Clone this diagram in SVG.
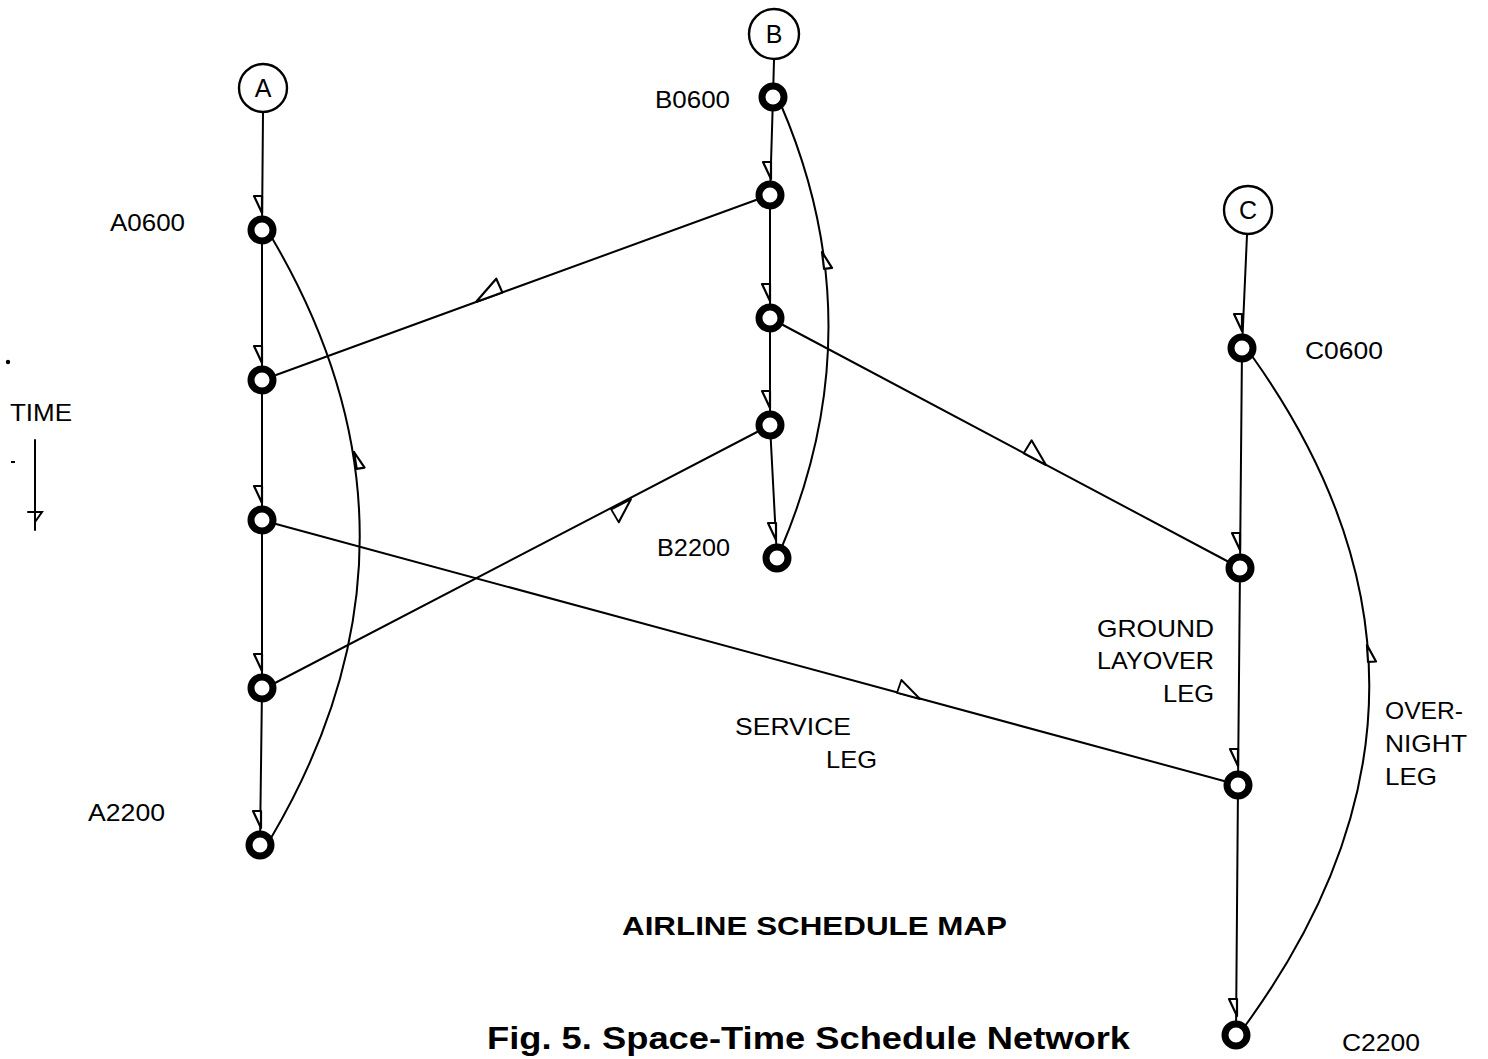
<svg xmlns="http://www.w3.org/2000/svg" xmlns:xlink="http://www.w3.org/1999/xlink" width="1488" height="1059" viewBox="0 0 1488 1059">
  <style>
    .leg { fill: none; stroke: #000; stroke-width: 2; stroke-linecap: round; }
    .ah { fill: #fff; stroke: #000; stroke-width: 2.2; stroke-linejoin: round; }
    .city { fill: #fff; stroke: #000; stroke-width: 2.4; }
    .ev { fill: #fff; stroke: #000; stroke-width: 7; }
    .lbl { font-family: "Liberation Sans", Arial, sans-serif; font-size: 24px; fill: #000; }
    .city-t { font-family: "Liberation Sans", Arial, sans-serif; font-size: 25px; fill: #000; text-anchor: middle; }
    .title { font-family: "Liberation Sans", Arial, sans-serif; font-weight: bold; fill: #000; }
  </style>
  <defs>
    <!-- half arrowheads: tip at origin, pointing along +x, flag on the +y side -->
    <path id="ah-s" class="ah" d="M0,0 L-17,0 L-17,8 Z"/>
    <path id="ah-b" class="ah" d="M0,0 L-28,0 L-27,15 Z"/>
  </defs>
  <rect width="1488" height="1059" fill="#fff"/>

  <!-- connectors -->
  <g id="connectors">
    <!-- ground arcs (timelines) -->
    <polyline class="leg" points="263,113 262,230 262,380 262,520 262,688 260,845"/>
    <polyline class="leg" points="774,60 773,97 770,195 770,318 770,425 777,558"/>
    <polyline class="leg" points="1247,235 1242,348 1240,568 1238,785 1236,1035"/>

    <!-- overnight arcs -->
    <path class="leg" d="M271,838 Q448,537 272,238"/>
    <path class="leg" d="M781,549 Q876,326 781,105"/>
    <path class="leg" d="M1245,1026 Q1490,690 1252,356"/>

    <!-- service legs -->
    <line class="leg" x1="276" y1="375" x2="756" y2="200"/>
    <line class="leg" x1="783" y1="325" x2="1227" y2="561"/>
    <line class="leg" x1="757" y1="432" x2="275" y2="683"/>
    <line class="leg" x1="276" y1="524" x2="1224" y2="781"/>

    <!-- arrowheads on timelines -->
    <use xlink:href="#ah-s" transform="translate(262,213) rotate(90)"/>
    <use xlink:href="#ah-s" transform="translate(262,363) rotate(90)"/>
    <use xlink:href="#ah-s" transform="translate(262,503) rotate(90)"/>
    <use xlink:href="#ah-s" transform="translate(262,671) rotate(90)"/>
    <use xlink:href="#ah-s" transform="translate(261,828) rotate(90)"/>
    <use xlink:href="#ah-s" transform="translate(771,179) rotate(90)"/>
    <use xlink:href="#ah-s" transform="translate(770,301) rotate(90)"/>
    <use xlink:href="#ah-s" transform="translate(770,408) rotate(90)"/>
    <use xlink:href="#ah-s" transform="translate(776,540) rotate(90)"/>
    <use xlink:href="#ah-s" transform="translate(1242,331) rotate(90)"/>
    <use xlink:href="#ah-s" transform="translate(1240,550) rotate(90)"/>
    <use xlink:href="#ah-s" transform="translate(1238,766) rotate(90)"/>
    <use xlink:href="#ah-s" transform="translate(1237,1016) rotate(90)"/>

    <!-- arrowheads on overnight arcs -->
    <use xlink:href="#ah-s" transform="translate(354,452) rotate(-99)"/>
    <use xlink:href="#ah-s" transform="translate(822,252) rotate(-97)"/>
    <use xlink:href="#ah-s" transform="translate(1367,645) rotate(-93.5)"/>

    <!-- arrowheads on service legs -->
    <use xlink:href="#ah-b" transform="translate(476,302) rotate(160)"/>
    <use xlink:href="#ah-b" transform="translate(1046,465) rotate(28) scale(0.9,-1)"/>
    <use xlink:href="#ah-b" transform="translate(631,499) rotate(-27.4) scale(0.8,1)"/>
    <use xlink:href="#ah-b" transform="translate(920,699) rotate(15.2) scale(0.85,-0.9)"/>
  </g>

  <!-- city nodes -->
  <g id="city-A">
    <circle class="city" cx="263" cy="88" r="24"/>
    <text class="city-t" x="263" y="97">A</text>
  </g>
  <g id="city-B">
    <circle class="city" cx="774" cy="34" r="25"/>
    <text class="city-t" x="774" y="43">B</text>
  </g>
  <g id="city-C">
    <circle class="city" cx="1248" cy="210" r="24"/>
    <text class="city-t" x="1248" y="219">C</text>
  </g>

  <!-- event nodes, station A -->
  <g id="A0600"><circle class="ev" cx="262" cy="230" r="11"/></g>
  <g id="A-n2"><circle class="ev" cx="262" cy="380" r="11"/></g>
  <g id="A-n3"><circle class="ev" cx="262" cy="520" r="11"/></g>
  <g id="A-n4"><circle class="ev" cx="262" cy="688" r="11"/></g>
  <g id="A2200"><circle class="ev" cx="260" cy="845" r="11"/></g>

  <!-- event nodes, station B -->
  <g id="B0600"><circle class="ev" cx="773" cy="97" r="11"/></g>
  <g id="B-n2"><circle class="ev" cx="770" cy="195" r="11"/></g>
  <g id="B-n3"><circle class="ev" cx="770" cy="318" r="11"/></g>
  <g id="B-n4"><circle class="ev" cx="770" cy="425" r="11"/></g>
  <g id="B2200"><circle class="ev" cx="777" cy="558" r="11"/></g>

  <!-- event nodes, station C -->
  <g id="C0600"><circle class="ev" cx="1242" cy="348" r="11"/></g>
  <g id="C-n2"><circle class="ev" cx="1240" cy="568" r="11"/></g>
  <g id="C-n3"><circle class="ev" cx="1238" cy="785" r="11"/></g>
  <g id="C2200"><circle class="ev" cx="1236" cy="1035" r="11"/></g>

  <!-- event labels -->
  <g id="labels">
    <text class="lbl" x="110" y="231" textLength="75" lengthAdjust="spacingAndGlyphs">A0600</text>
    <text class="lbl" x="88" y="821" textLength="77" lengthAdjust="spacingAndGlyphs">A2200</text>
    <text class="lbl" x="655" y="108" textLength="75" lengthAdjust="spacingAndGlyphs">B0600</text>
    <text class="lbl" x="657" y="556" textLength="73" lengthAdjust="spacingAndGlyphs">B2200</text>
    <text class="lbl" x="1305" y="359" textLength="78" lengthAdjust="spacingAndGlyphs">C0600</text>
    <text class="lbl" x="1342" y="1051" textLength="78" lengthAdjust="spacingAndGlyphs">C2200</text>

    <text class="lbl" x="1097" y="637" textLength="117" lengthAdjust="spacingAndGlyphs">GROUND</text>
    <text class="lbl" x="1097" y="669" textLength="117" lengthAdjust="spacingAndGlyphs">LAYOVER</text>
    <text class="lbl" x="1163" y="702" textLength="51" lengthAdjust="spacingAndGlyphs">LEG</text>

    <text class="lbl" x="735" y="735" textLength="116" lengthAdjust="spacingAndGlyphs">SERVICE</text>
    <text class="lbl" x="826" y="768" textLength="51" lengthAdjust="spacingAndGlyphs">LEG</text>

    <text class="lbl" x="1385" y="719" textLength="78" lengthAdjust="spacingAndGlyphs">OVER-</text>
    <text class="lbl" x="1385" y="752" textLength="82" lengthAdjust="spacingAndGlyphs">NIGHT</text>
    <text class="lbl" x="1385" y="785" textLength="52" lengthAdjust="spacingAndGlyphs">LEG</text>
  </g>

  <!-- time axis -->
  <g id="time-axis">
    <text class="lbl" x="10" y="421" textLength="62" lengthAdjust="spacingAndGlyphs">TIME</text>
    <line class="leg" x1="35" y1="440" x2="35" y2="530"/>
    <path class="leg" d="M28,512 L42,512 L35,522"/>
    <circle cx="8" cy="362" r="2.2" fill="#000"/>
    <rect x="11" y="461" width="4" height="2" fill="#000"/>
  </g>

  <!-- titles -->
  <text class="title" x="622" y="935" font-size="25" textLength="385" lengthAdjust="spacingAndGlyphs">AIRLINE SCHEDULE MAP</text>
  <text class="title" x="487" y="1049" font-size="31" textLength="643" lengthAdjust="spacingAndGlyphs">Fig. 5. Space-Time Schedule Network</text>
</svg>
